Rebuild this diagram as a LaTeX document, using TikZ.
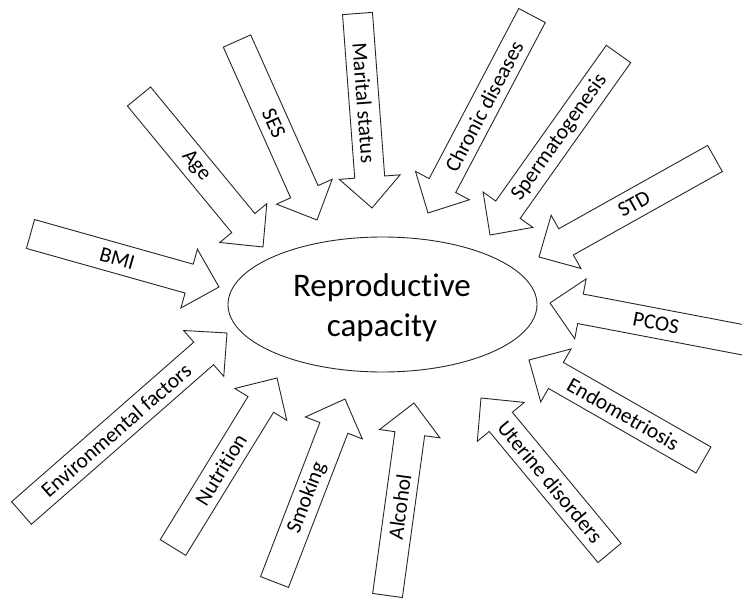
\documentclass[tikz,border=0pt]{standalone}
\usepackage{fontspec}
\setmainfont{Carlito}[Ligatures={NoCommon,NoContextual}]
\usetikzlibrary{calc,shapes.geometric}
\tikzset{
  blk/.style={draw=black!85, line width=0.9pt, fill=white, line join=miter},
  lbl/.style={font=\fontsize{21.5}{24}\selectfont, inner sep=0pt},
  centre/.style={draw=black!85, line width=0.9pt, ellipse, inner sep=0pt, minimum width=309pt, minimum height=135pt},
  ctext/.style={font=\fontsize{33}{40}\selectfont, align=center, inner sep=0pt},
}
\newcommand{\farrow}[5]{%
  \coordinate (#1T) at (#2);
  \coordinate (#1P) at (#3);
  \coordinate (#1B) at ($(#1P)!31pt!(#1T)$);
  \draw[blk] ($(#1T)!15pt!90:(#1P)$) -- ($(#1B)!15pt!90:(#1P)$) -- ($(#1B)!30.5pt!90:(#1P)$) -- (#1P)
    -- ($(#1B)!30.5pt!-90:(#1P)$) -- ($(#1B)!15pt!-90:(#1P)$) -- ($(#1T)!15pt!-90:(#1P)$) -- cycle;
  \node[lbl, rotate=#5] (#1) at ($(#1T)!0.46!(#1P)$) {#4};
}
\begin{document}
\begin{tikzpicture}[x=1pt,y=-1pt]
\useasboundingbox (0,0) rectangle (742,599);
\clip (0,0) rectangle (742,599);
\node[centre] (rc) at (382.5,304.5) {};
\node[ctext] (rctext) at (382,307.5) {Reproductive\\capacity};
\farrow{bmi}{30.5,234}{219,287}{BMI}{-15.7}
\farrow{age}{139,96.5}{263,247}{Age}{-50.5}
\farrow{ses}{237,41}{317,220}{SES}{-65.9}
\farrow{mar}{357.5,13.5}{372,208}{Marital status}{-85.7}
\farrow{chr}{532,15.5}{428,213}{Chronic diseases}{62.2}
\farrow{spe}{618.5,54}{490,235}{Spermatogenesis}{54.6}
\farrow{std}{715,158.5}{539,257}{STD}{29.2}
\farrow{pco}{746.5,340.5}{550,303}{PCOS}{-10.8}
\farrow{end}{703.5,460}{529,360}{Endometriosis}{-29.8}
\farrow{ute}{609.5,553}{481,398}{Uterine disorders}{-50.3}
\farrow{alc}{387.5,595.5}{414,403}{Alcohol}{82.2}
\farrow{smo}{274.5,582}{345,399}{Smoking}{68.9}
\farrow{nut}{173,547.5}{277,378}{Nutrition}{58.5}
\farrow{env}{21.5,513}{227,333}{Environmental factors}{41.2}
\end{tikzpicture}
\end{document}
